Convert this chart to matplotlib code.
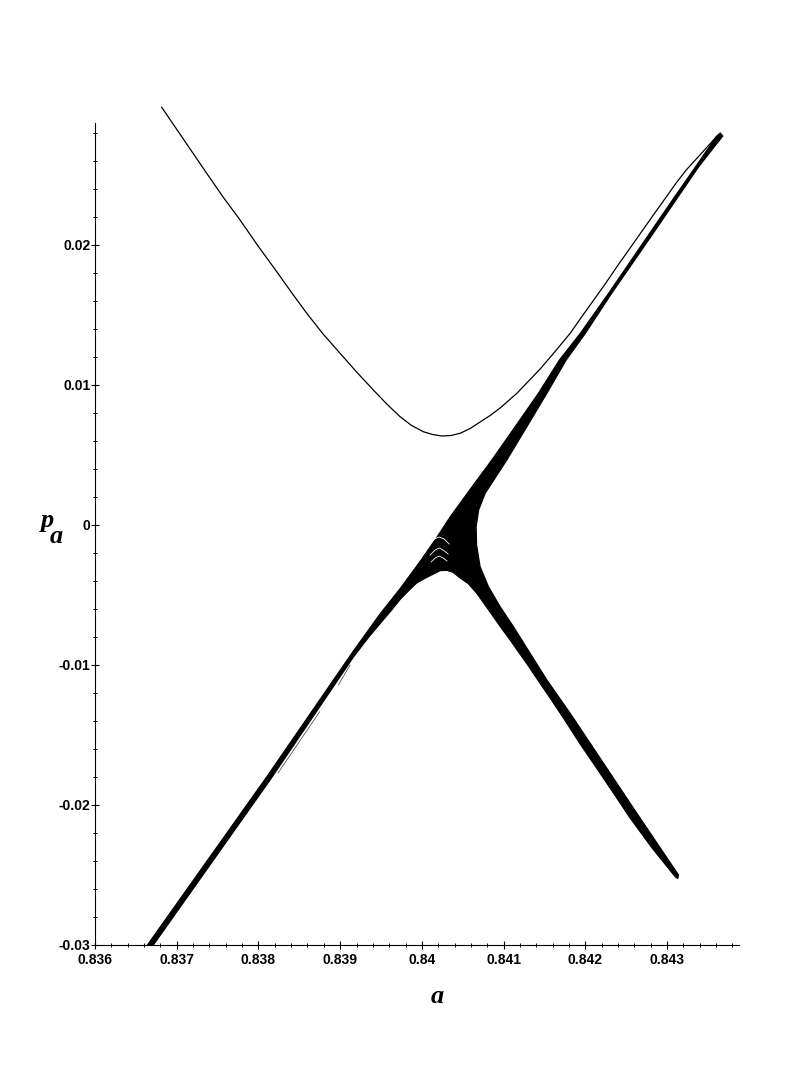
import matplotlib
matplotlib.use("Agg")
import matplotlib.pyplot as plt
from matplotlib.ticker import FixedLocator, FixedFormatter, MultipleLocator

# ---------------- data ----------------
# thin upper orbit (hyperbola-like curve)
upper_a = [0.836816, 0.837089, 0.837367, 0.837567, 0.837775, 0.837995, 0.838224,
           0.838405, 0.838591, 0.838791, 0.838999, 0.839201, 0.839406, 0.839570,
           0.839733, 0.839874, 0.840018, 0.840131, 0.840244, 0.840357, 0.840468,
           0.840590, 0.840712, 0.840835, 0.840957, 0.841055, 0.841162, 0.841300,
           0.841447, 0.841630, 0.841814, 0.841967, 0.842120, 0.842255, 0.842386,
           0.842548, 0.842711, 0.842854, 0.842998, 0.843111, 0.843234, 0.843424,
           0.843613]
upper_p = [0.029836, 0.0275, 0.025121, 0.023429, 0.021786, 0.019929, 0.018093,
           0.016607, 0.015121, 0.013643, 0.012264, 0.010929, 0.009643, 0.008643,
           0.007736, 0.007107, 0.006664, 0.006464, 0.006357, 0.006393, 0.00655,
           0.006893, 0.007357, 0.007821, 0.008357, 0.008857, 0.009407, 0.01025,
           0.011143, 0.012393, 0.013693, 0.014964, 0.016214, 0.017321, 0.01845,
           0.019786, 0.021143, 0.022321, 0.0235, 0.024429, 0.025357, 0.026571,
           0.027786]

# dense band of orbits: outline = upper-left edge, right edge, lower edge
band_a = [0.836633, 0.838102, 0.839162, 0.839488, 0.839733, 0.839978, 0.840182,
          0.840345, 0.840672, 0.840856, 0.841141, 0.841426, 0.841683, 0.841939,
          0.842285, 0.842787, 0.843066, 0.843350, 0.843601, 0.843650,
          0.843681, 0.843387, 0.843108, 0.842830, 0.842322, 0.842000, 0.841765,
          0.841529, 0.841284, 0.841039, 0.840774, 0.840694, 0.840663, 0.840669,
          0.840712, 0.840814, 0.840957, 0.841120, 0.841324, 0.841529, 0.841814,
          0.842222, 0.842630, 0.843140, 0.843130,
          0.843099, 0.842817, 0.842548, 0.842344, 0.842141, 0.841937, 0.841732,
          0.841569, 0.841406, 0.841284, 0.841178, 0.841080, 0.840976, 0.840875,
          0.840774, 0.840672, 0.840566, 0.840468, 0.840382, 0.840305, 0.840223,
          0.840141, 0.840040, 0.839938, 0.839831, 0.839733, 0.839635, 0.839525,
          0.839345, 0.839162, 0.838142, 0.836694]
band_p = [-0.030071, -0.017986, -0.009, -0.006357, -0.00455, -0.002607, -0.000893,
          0.000571, 0.003193, 0.004643, 0.007021, 0.009407, 0.011786, 0.013693,
          0.01655, 0.020836, 0.023214, 0.025593, 0.027736, 0.028,
          0.027786, 0.025593, 0.023214, 0.020836, 0.01655, 0.013693, 0.011786,
          0.009407, 0.007021, 0.004643, 0.002264, 0.001071, -0.000143, -0.001429,
          -0.002979, -0.004407, -0.005836, -0.007264, -0.009164, -0.011071, -0.01345,
          -0.017021, -0.020593, -0.025, -0.02525,
          -0.025121, -0.023071, -0.020929, -0.019143, -0.017393, -0.015643, -0.013786,
          -0.012357, -0.010964, -0.0099, -0.009036, -0.008214, -0.007393, -0.00655,
          -0.005714, -0.004879, -0.004179, -0.003786, -0.003378, -0.003236, -0.003257,
          -0.0035, -0.0038, -0.004129, -0.004729, -0.005321, -0.006036, -0.006786,
          -0.008036, -0.009429, -0.018214, -0.030164]

# small white gaps between inner orbits near the centre
gap1_a = [0.840088, 0.840149, 0.840211, 0.840272, 0.840333]
gap1_p = [-0.001429, -0.001, -0.000857, -0.001, -0.001357]
gap2_a = [0.840100, 0.840162, 0.840211, 0.840260, 0.840321]
gap2_p = [-0.002143, -0.001786, -0.001643, -0.001786, -0.002071]
gap3_a = [0.840113, 0.840162, 0.840211, 0.840260, 0.840308]
gap3_p = [-0.002643, -0.002357, -0.002214, -0.002357, -0.002571]

# stray orbit fragments beside the lower-left branch
stray1_a = [0.838240, 0.838750]
stray1_p = [-0.017714, -0.013336]
stray2_a = [0.838978, 0.839121]
stray2_p = [-0.011429, -0.010]

x_ticks = [0.836, 0.837, 0.838, 0.839, 0.840, 0.841, 0.842, 0.843]
x_tick_labels = ["0.836", "0.837", "0.838", "0.839", "0.84", "0.841", "0.842", "0.843"]
y_ticks = [-0.03, -0.02, -0.01, 0.0, 0.01, 0.02]
y_tick_labels = ["-0.03", "-0.02", "-0.01", "0", "0.01", "0.02"]
y_minor_ticks = [-0.028, -0.026, -0.024, -0.022, -0.018, -0.016, -0.014, -0.012,
                 -0.008, -0.006, -0.004, -0.002, 0.002, 0.004, 0.006, 0.008,
                 0.012, 0.014, 0.016, 0.018, 0.022, 0.024, 0.026, 0.028]

# ---------------- figure ----------------
W, H = 809, 1090
fig = plt.figure(figsize=(W / 100, H / 100), dpi=100)
ax = fig.add_axes([95 / W, 145 / H, 644 / W, 840 / H])

ax.fill(band_a, band_p, color="black", lw=0.9, joinstyle="round")
for ga, gp in [(gap1_a, gap1_p), (gap2_a, gap2_p), (gap3_a, gap3_p)]:
    ax.plot(ga, gp, color="white", lw=0.6, solid_joinstyle="round")
ax.plot(upper_a, upper_p, color="black", lw=0.9, solid_joinstyle="round")
ax.plot(stray1_a, stray1_p, color="#333333", lw=0.5)
ax.plot(stray2_a, stray2_p, color="#333333", lw=0.5)

ax.set_xlim(0.836, 0.84388)
ax.set_ylim(-0.03, 0.030)

for s in ("top", "right"):
    ax.spines[s].set_visible(False)
for s in ("left", "bottom"):
    ax.spines[s].set_linewidth(0.8)
    ax.spines[s].set_color("black")
ax.spines["left"].set_bounds(-0.03, 0.0287)

ax.xaxis.set_major_locator(FixedLocator(x_ticks))
ax.xaxis.set_major_formatter(FixedFormatter(x_tick_labels))
ax.xaxis.set_minor_locator(MultipleLocator(0.0002))
ax.yaxis.set_major_locator(FixedLocator(y_ticks))
ax.yaxis.set_major_formatter(FixedFormatter(y_tick_labels))
ax.yaxis.set_minor_locator(FixedLocator(y_minor_ticks))

ax.tick_params(axis="both", which="major", direction="inout", length=6, width=0.8,
               color="black")
ax.tick_params(axis="both", which="minor", direction="inout", length=3.5, width=0.7,
               color="black")
ax.tick_params(axis="x", which="major", pad=3.0)
ax.tick_params(axis="y", which="major", pad=0.3)
for lab in ax.get_xticklabels() + ax.get_yticklabels():
    lab.set_fontfamily("Liberation Sans")
    lab.set_fontweight("bold")
    lab.set_fontsize(10)

label_font = dict(family="Liberation Serif", style="italic", weight="bold", size=19)
fig.text(437 / W, 1 - 1003 / H, "a", ha="center", va="baseline", **label_font)
fig.text(41 / W, 1 - 527 / H, "p", ha="left", va="baseline", **label_font)
fig.text(50 / W, 1 - 543 / H, "a", ha="left", va="baseline", **label_font)

fig.savefig("out.png", dpi=100, facecolor="white")
